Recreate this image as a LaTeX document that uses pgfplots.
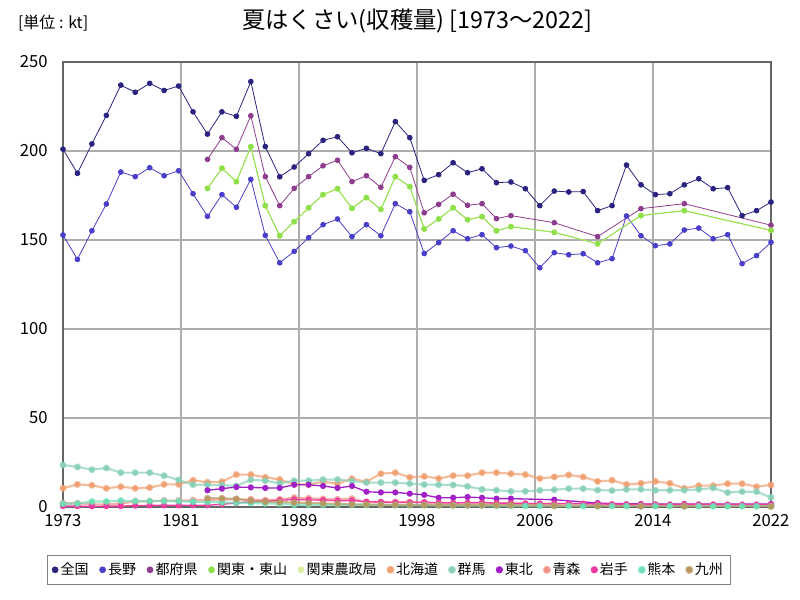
\documentclass[border=0pt]{standalone}
\usepackage{fontspec}
\setmainfont{Noto Sans CJK JP}
\usepackage{pgfplots}
\pgfplotsset{compat=1.18}
\definecolor{cZenkoku}{HTML}{2A2380}
\definecolor{cNagano}{HTML}{4A3FC8}
\definecolor{cTofuken}{HTML}{8E3D8E}
\definecolor{cKanto}{HTML}{8EE04A}
\definecolor{cNosei}{HTML}{DCEFA0}
\definecolor{cHokkaido}{HTML}{F0A070}
\definecolor{cGunma}{HTML}{88D0B8}
\definecolor{cTohoku}{HTML}{A020C8}
\definecolor{cAomori}{HTML}{F09088}
\definecolor{cIwate}{HTML}{F03CA0}
\definecolor{cKumamoto}{HTML}{6EE0B8}
\definecolor{cKyushu}{HTML}{B89860}
\begin{document}
\begin{tikzpicture}
\useasboundingbox (0,0) rectangle (600pt,450pt);
\node[font=\fontsize{17.5}{20}\selectfont] at (313pt,434pt) {夏はくさい(収穫量) [1973～2022]};
\node[font=\fontsize{12}{14}\selectfont, anchor=west] at (10pt,433pt) {[単位 : kt]};
\begin{axis}[
  at={(47.25pt,69.75pt)}, anchor=south west,
  width=531pt, height=333.75pt, scale only axis,
  xmin=1973, xmax=2022, ymin=0, ymax=250,
  xtick={1973,1981.1667,1989.3333,1997.5,2005.6667,2013.8333,2022},
  xticklabels={1973,1981,1989,1998,2006,2014,2022},
  ytick={0,50,100,150,200,250},
  major tick length=0pt,
  grid=major,
  major grid style={draw=black!32, line width=1pt},
  axis line style={draw=black!60, line width=1.2pt},
  tick label style={font=\fontsize{12.5}{14}\selectfont},
  /pgf/number format/assume math mode=true,
  yticklabel style={xshift=-8pt},
  xticklabel style={yshift=-2pt},
  every axis plot/.append style={mark=*, mark size=1.8pt, line width=0.6pt},
  legend columns=12,
  legend style={at={(-0.0226,-0.108)}, anchor=north west, draw=black!50, line width=0.8pt,
     font=\fontsize{10.5}{12}\selectfont, inner sep=3.5pt,
     /tikz/every even column/.append style={column sep=6.2pt}},
  legend image code/.code={\path[mark=*, mark size=2.2pt] plot coordinates {(0.1cm,0cm)};},
]
\addplot[color=cZenkoku] coordinates {
(1973,201)(1974,187.5)(1975,204)(1976,220)(1977,237)(1978,233)(1979,238)(1980,234)(1981,236.5)(1982,222)
(1983,209.5)(1984,222)(1985,219.5)(1986,239)(1987,202.5)(1988,185.5)(1989,191)(1990,198.5)(1991,206)(1992,208)
(1993,199)(1994,201.5)(1995,198.5)(1996,216.5)(1997,207.5)(1998,183.5)(1999,186.7)(2000,193.4)(2001,187.8)(2002,190)
(2003,182.2)(2004,182.6)(2005,178.8)(2006,169.3)(2007,177.5)(2008,177)(2009,177.2)(2010,166.5)(2011,169.3)(2012,192.1)
(2013,181)(2014,175.5)(2015,176)(2016,181)(2017,184.4)(2018,178.8)(2019,179.4)(2020,163.7)(2021,166.5)(2022,171.3)};
\addlegendentry{全国}
\addplot[color=cNagano] coordinates {
(1973,152.8)(1974,139.1)(1975,155.2)(1976,170.2)(1977,188.2)(1978,185.6)(1979,190.6)(1980,186.1)(1981,188.9)(1982,176)
(1983,163.3)(1984,175.5)(1985,168.4)(1986,184.1)(1987,152.6)(1988,137.2)(1989,143.6)(1990,151.3)(1991,158.6)(1992,161.8)
(1993,151.9)(1994,158.6)(1995,152.4)(1996,170.4)(1997,165.9)(1998,142.4)(1999,148.5)(2000,155.2)(2001,150.7)(2002,153)
(2003,145.7)(2004,146.6)(2005,144)(2006,134.4)(2007,142.9)(2008,141.7)(2009,142.3)(2010,137.2)(2011,139.5)(2012,163.5)
(2013,152.4)(2014,146.8)(2015,147.8)(2016,155.6)(2017,156.7)(2018,150.7)(2019,153)(2020,136.7)(2021,141.2)(2022,148.7)};
\addlegendentry{長野}
\addplot[color=cTofuken] coordinates {
(1983,195.3)(1984,207.5)(1985,201)(1986,219.8)(1987,185.6)(1988,169.3)(1989,179)(1990,185.6)(1991,191.7)(1992,194.8)
(1993,182.8)(1994,186.1)(1995,179.6)(1996,196.8)(1997,190.8)(1998,165.3)(1999,170)(2000,175.7)(2001,169.5)(2002,170.4)
(2003,162)(2004,163.7)(2007,159.7)(2010,151.9)(2013,167.6)(2016,170.4)(2022,158.3)};
\addlegendentry{都府県}
\addplot[color=cKanto] coordinates {
(1983,179)(1984,190.3)(1985,182.8)(1986,202.4)(1987,169.3)(1988,152.4)(1989,160.3)(1990,168.1)(1991,175.5)(1992,178.8)
(1993,167.8)(1994,173.8)(1995,167.2)(1996,185.6)(1997,180)(1998,156.2)(1999,161.8)(2000,168.1)(2001,161.4)(2002,163.1)
(2003,155.2)(2004,157.5)(2007,154.3)(2010,147.9)(2013,163.7)(2016,166.5)(2022,155.4)};
\addlegendentry{関東・東山}
\addplot[color=cNosei] coordinates {
(1983,179)(1984,190.3)(1985,182.8)(1986,202.4)(1987,169.3)(1988,152.4)(1989,160.3)(1990,168.1)(1991,175.5)(1992,178.8)
(1993,167.8)(1994,173.8)(1995,167.2)(1996,185.6)(1997,180)(1998,156.2)(1999,161.8)(2000,168.1)(2001,161.4)(2002,163.1)
(2003,155.2)(2004,157.5)(2007,154.3)(2010,147.9)(2013,163.7)(2016,166.5)(2022,155.4)};
\addlegendentry{関東農政局}
\addplot[color=cHokkaido, line width=1.6pt, draw opacity=0.7] coordinates {
(1973,10.5)(1974,12.7)(1975,12.2)(1976,10.5)(1977,11.4)(1978,10.5)(1979,10.9)(1980,12.7)(1981,12.7)(1982,15)
(1983,13.9)(1984,14.2)(1985,18.2)(1986,18.2)(1987,16.7)(1988,15.5)(1989,12.7)(1990,12.7)(1991,14.2)(1992,13.1)
(1993,15.9)(1994,14.2)(1995,18.7)(1996,19.3)(1997,16.7)(1998,17.2)(1999,16)(2000,17.6)(2001,17.6)(2002,19.3)
(2003,19.3)(2004,18.7)(2005,18.2)(2006,16)(2007,16.9)(2008,18)(2009,16.9)(2010,14.4)(2011,15)(2012,12.7)
(2013,13.3)(2014,14.4)(2015,13.3)(2016,10.5)(2017,12)(2018,12)(2019,13.1)(2020,13.1)(2021,11.4)(2022,12.4)};
\addlegendentry{北海道}
\addplot[color=cGunma, line width=1.6pt, draw opacity=0.7] coordinates {
(1973,23.6)(1974,22.5)(1975,21)(1976,21.9)(1977,19.3)(1978,19.3)(1979,19.3)(1980,17.6)(1981,15.2)(1982,12.5)
(1983,12.5)(1984,12.3)(1985,11.8)(1986,15.3)(1987,14.8)(1988,13.3)(1989,14.8)(1990,14.8)(1991,15.4)(1992,15.4)
(1993,14.6)(1994,13.7)(1995,13.7)(1996,13.7)(1997,13.1)(1998,12.6)(1999,12.5)(2000,12.4)(2001,11.6)(2002,9.9)
(2003,9.4)(2004,8.8)(2005,8.8)(2006,9.4)(2007,9.7)(2008,10.3)(2009,10.3)(2010,9.5)(2011,9.2)(2012,9.9)
(2013,9.9)(2014,9.4)(2015,9.4)(2016,9.4)(2017,9.9)(2018,10.7)(2019,8.1)(2020,8.6)(2021,8.6)(2022,5.4)};
\addlegendentry{群馬}
\addplot[color=cTohoku, line width=1pt] coordinates {
(1983,9.4)(1984,10.3)(1985,11.2)(1986,11)(1987,10.7)(1988,10.7)(1989,12.5)(1990,12.5)(1991,11.8)(1992,10.7)
(1993,11.8)(1994,8.6)(1995,8.2)(1996,8.2)(1997,7.5)(1998,6.8)(1999,5.2)(2000,5.2)(2001,5.6)(2002,5.2)
(2003,4.7)(2004,4.7)(2007,4.1)(2010,2.2)(2013,1.7)(2016,1.7)(2022,1.7)};
\addlegendentry{東北}
\addplot[color=cAomori, line width=1.6pt, draw opacity=0.7] coordinates {
(1973,2.1)(1974,2.1)(1975,1.5)(1976,1.5)(1977,2.0)(1978,3.1)(1979,3.1)(1980,3.6)(1981,3.6)(1982,3.8)
(1983,4.0)(1984,4.2)(1985,4.3)(1986,4.3)(1987,3.8)(1988,4.3)(1989,5.2)(1990,4.9)(1991,4.5)(1992,4.3)
(1993,4.7)(1994,2.8)(1995,2.8)(1996,2.8)(1997,2.8)(1998,2.5)(1999,2.0)(2000,2.0)(2001,1.9)(2002,2.1)
(2003,1.9)(2004,1.8)(2005,1.8)(2006,1.7)(2007,1.7)(2008,1.6)(2009,1.6)(2010,1.2)(2011,1.0)(2012,1.0)
(2013,0.9)(2014,0.9)(2015,0.9)(2016,0.8)(2017,0.8)(2018,0.8)(2019,0.8)(2020,0.8)(2021,0.8)(2022,0.8)};
\addlegendentry{青森}
\addplot[color=cIwate, line width=1pt] coordinates {
(1973,0.5)(1974,0.5)(1975,0.4)(1976,0.5)(1977,0.5)(1978,0.8)(1979,0.9)(1980,0.9)(1981,0.9)(1982,1.0)
(1983,1.0)(1984,1.5)(1985,2.3)(1986,3.0)(1987,3.3)(1988,3.8)(1989,4.2)(1990,4.0)(1991,3.8)(1992,3.5)
(1993,3.6)(1994,3.0)(1995,2.8)(1996,2.6)(1997,2.6)(1998,2.7)(1999,2.4)(2000,2.3)(2001,2.4)(2002,2.5)
(2003,2.2)(2004,2.2)(2005,2.0)(2006,1.9)(2007,1.9)(2008,2.0)(2009,1.9)(2010,1.7)(2011,1.6)(2012,1.6)
(2013,1.5)(2014,1.5)(2015,1.5)(2016,1.5)(2017,1.5)(2018,1.5)(2019,1.4)(2020,1.4)(2021,1.4)(2022,1.4)};
\addlegendentry{岩手}
\addplot[color=cKumamoto, line width=1.6pt, draw opacity=0.7] coordinates {
(1973,1.8)(1974,1.9)(1975,3.1)(1976,3.1)(1977,3.6)(1978,3.3)(1979,3.3)(1980,3.3)(1981,3.2)(1982,3.0)
(1983,2.8)(1984,2.6)(1985,2.4)(1986,2.2)(1987,2.0)(1988,1.8)(1989,1.3)(1990,1.3)(1991,1.2)(1992,1.2)
(1993,1.2)(1994,1.1)(1995,1.1)(1996,1.0)(1997,1.0)(1998,1.0)(1999,0.9)(2000,0.9)(2001,0.8)(2002,0.8)
(2003,0.7)(2004,0.7)(2005,0.6)(2006,0.6)(2007,0.6)(2008,0.6)(2009,0.5)(2010,0.5)(2011,0.5)(2012,0.5)
(2013,0.5)(2014,0.5)(2015,0.5)(2016,0.4)(2017,0.4)(2018,0.4)(2019,0.4)(2020,0.4)(2021,0.4)(2022,0.4)};
\addlegendentry{熊本}
\addplot[color=cKyushu, line width=1.6pt, draw opacity=0.7] coordinates {
(1983,4.9)(1984,4.9)(1985,4.5)(1986,3.5)(1987,3.0)(1988,2.8)(1989,2.5)(1990,2.3)(1991,2.0)(1992,1.8)
(1993,1.5)(1994,1.4)(1995,1.3)(1996,1.2)(1997,1.2)(1998,1.1)(1999,1.0)(2000,1.0)(2001,1.0)(2002,1.0)
(2003,1.0)(2004,1.0)(2007,0.7)(2010,0.5)(2013,0.4)(2016,0.4)(2022,0.3)};
\addlegendentry{九州}
\addplot[color=cKanto, forget plot] coordinates {
(1983,179)(1984,190.3)(1985,182.8)(1986,202.4)(1987,169.3)(1988,152.4)(1989,160.3)(1990,168.1)(1991,175.5)(1992,178.8)
(1993,167.8)(1994,173.8)(1995,167.2)(1996,185.6)(1997,180)(1998,156.2)(1999,161.8)(2000,168.1)(2001,161.4)(2002,163.1)
(2003,155.2)(2004,157.5)(2007,154.3)(2010,147.9)(2013,163.7)(2016,166.5)(2022,155.4)};
\end{axis}
\end{tikzpicture}
\end{document}
